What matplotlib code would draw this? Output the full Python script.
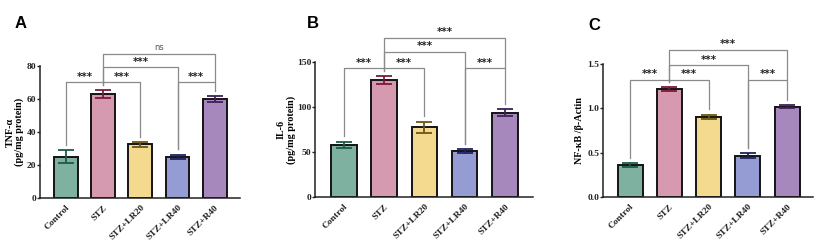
import matplotlib
matplotlib.use("Agg")
import matplotlib.pyplot as plt
import numpy as np

# ── Data ──────────────────────────────────────────────────────────────────────
groups = ["Control", "STZ", "STZ+LR20", "STZ+LR40", "STZ+R40"]

tnf_mean = [25.0, 63.0, 32.5, 25.0, 60.0]
tnf_err  = [4.0, 2.5, 1.5, 1.3, 1.8]

il6_mean = [58.0, 130.0, 77.5, 51.0, 93.5]
il6_err  = [3.5, 4.0, 6.0, 2.0, 4.0]

nfkb_mean = [0.36, 1.22, 0.905, 0.465, 1.02]
nfkb_err  = [0.02, 0.02, 0.025, 0.03, 0.015]

# comparisons: (group a, group b, label)
comparisons_a = [(0, 1, "***"), (1, 2, "***"), (3, 4, "***"), (1, 3, "***"), (1, 4, "ns")]
comparisons_bc = [(0, 1, "***"), (1, 2, "***"), (3, 4, "***"), (1, 3, "***"), (1, 4, "***")]

# ── Style ─────────────────────────────────────────────────────────────────────
BAR_COLORS = ["#7fb1a1", "#d59aaf", "#f4da8e", "#959cd3", "#a688bd"]
ERR_COLORS = ["#1d5a4a", "#7d1838", "#6a5714", "#1f2360", "#3e2058"]
EDGE = "#141414"
BRACKET = "#8a8a8a"
SERIF = ["Liberation Serif", "DejaVu Serif"]

plt.rcParams.update({
    "font.family": SERIF,
    "font.weight": "bold",
    "axes.linewidth": 1.1,
    "axes.edgecolor": "#222222",
    "xtick.color": "#222222",
    "ytick.color": "#222222",
})

fig = plt.figure(figsize=(8.23, 2.48), dpi=100)
W, H = 823, 248


def px_axes(x0, x1, y_bottom, y_top):
    return fig.add_axes([x0 / W, 1 - y_bottom / H, (x1 - x0) / W, (y_bottom - y_top) / H])


def draw_panel(ax, mean, err, ymax, yticks, ytlabels, ylabel, label_x, comps, levels, xlim):
    x = np.arange(len(groups))
    ax.bar(x, mean, width=0.64, color=BAR_COLORS, edgecolor=EDGE, linewidth=1.4, zorder=2)
    for i in range(len(groups)):
        ax.errorbar(x[i], mean[i], yerr=err[i], color=ERR_COLORS[i], capsize=6,
                    capthick=1.3, elinewidth=1.3, zorder=3)
    ax.set_xlim(*xlim)
    ax.set_ylim(0, ymax)
    ax.set_yticks(yticks)
    ax.set_yticklabels(ytlabels, fontsize=6.8, fontweight="bold")
    ax.set_xticks(x)
    ax.set_xticklabels(groups, rotation=45, ha="right", rotation_mode="anchor",
                       fontsize=6.8, fontweight="bold")
    ax.tick_params(axis="y", length=2, width=1, pad=0.5)
    ax.tick_params(axis="x", length=0, pad=4)
    ax.set_ylabel(ylabel, fontsize=7.3, fontweight="bold", linespacing=1.05)
    ax.yaxis.set_label_coords(label_x, 0.5)
    ax.spines[["top", "right"]].set_visible(False)

    # significance brackets
    tops = [m + e for m, e in zip(mean, err)]
    gap = ymax * 0.04
    for (a, b, lab), lvl in zip(comps, levels):
        y = lvl * ymax
        ya = min(tops[a] + gap, y)
        yb = min(tops[b] + gap, y)
        # legs from the shared columns join the level below
        if a == 1 and lvl > levels[0]:
            ya = levels[0] * ymax
        if b == 4 and lvl > levels[0] + 0.2:
            yb = levels[0] * ymax
        ax.plot([x[a], x[a], x[b], x[b]], [ya, y, y, yb], color=BRACKET,
                lw=0.9, clip_on=False, zorder=1)
        if lab == "ns":
            ax.text((x[a] + x[b]) / 2, y + ymax * 0.015, lab, ha="center", va="bottom",
                    fontsize=6, color="#555555", fontweight="normal",
                    family=["DejaVu Sans"])
        else:
            ax.text((x[a] + x[b]) / 2, y + ymax * 0.005, lab, ha="center", va="bottom",
                    fontsize=7.2, color="#222222", fontweight="bold",
                    family=["DejaVu Sans"])


axA = px_axes(40, 240, 198, 66)
draw_panel(axA, tnf_mean, tnf_err, 80, [0, 20, 40, 60, 80], ["0", "20", "40", "60", "80"],
           "TNF-\u03b1\n(pg/mg protein)", -0.078, comparisons_a,
           [0.875, 0.875, 0.875, 0.99, 1.09], (-0.7, 4.68))

axB = px_axes(315, 533, 197, 62)
draw_panel(axB, il6_mean, il6_err, 150, [0, 50, 100, 150], ["0", "50", "100", "150"],
           "IL-6\n(pg/mg protein)", -0.088, comparisons_bc,
           [0.953, 0.953, 0.953, 1.073, 1.18], (-0.72, 4.7))

axC = px_axes(603, 813, 197, 64)
draw_panel(axC, nfkb_mean, nfkb_err, 1.5, [0, 0.5, 1.0, 1.5], ["0.0", "0.5", "1.0", "1.5"],
           "NF-\u03baB /\u03b2-Actin", -0.092, comparisons_bc,
           [0.88, 0.88, 0.88, 0.99, 1.107], (-0.69, 4.66))

for lab, xp, yp in [("A", 15, 24), ("B", 307, 23), ("C", 588, 25)]:
    fig.text(xp / W, 1 - yp / H, lab, fontsize=12, fontweight="bold",
             family=["Liberation Sans", "DejaVu Sans"], ha="left", va="center")

fig.savefig("out.png", dpi=100)
